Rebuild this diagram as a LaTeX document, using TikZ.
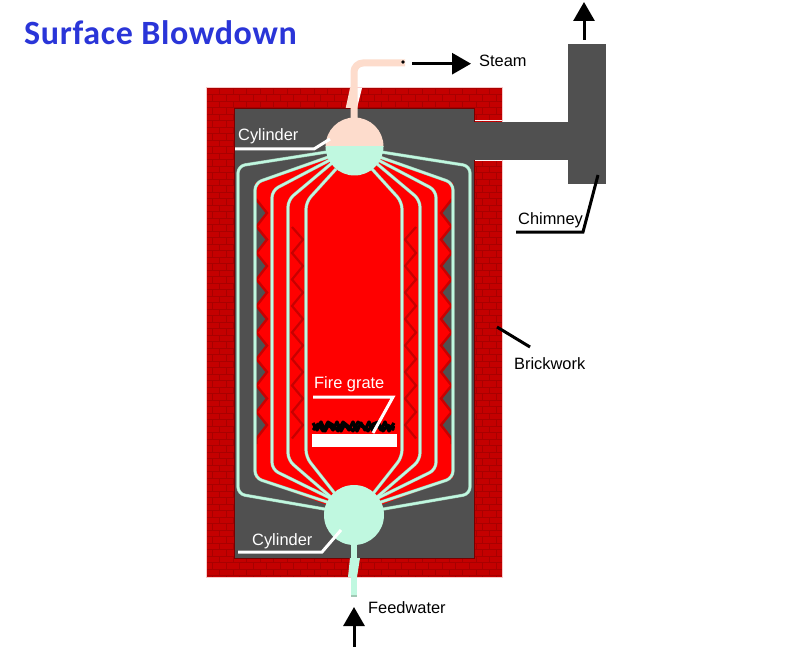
\documentclass[tikz,border=0pt]{standalone}
\usepackage{fontspec}
\setmainfont{Liberation Sans}
\newfontfamily\titlefont[LetterSpace=2]{Carlito}
\usetikzlibrary{arrows.meta}
\definecolor{brickc}{HTML}{C40000}
\definecolor{mortar}{HTML}{A80000}
\definecolor{edgepink}{HTML}{F8C8C8}
\definecolor{wallgray}{HTML}{505050}
\definecolor{fire}{HTML}{FF0000}
\definecolor{zigred}{HTML}{C80000}
\definecolor{water}{HTML}{C0F8E0}
\definecolor{waterline}{HTML}{A0C8B4}
\definecolor{steamc}{HTML}{FDDCCC}
\definecolor{titleblue}{HTML}{2A35D8}
\tikzset{
  x=1pt,y=-1pt,
  label/.style={font=\fontsize{16.4}{18}\selectfont,anchor=base west,inner sep=0pt},
  whitelabel/.style={label,text=white},
  leaderw/.style={draw=white,line width=3pt,line join=miter},
  leaderb/.style={draw=black,line width=3pt,line join=miter},
  flow/.style={draw=black,line width=3pt,-{Triangle[length=19pt,width=21pt]}},
  tubeo/.style={draw=waterline,line width=3.2pt,rounded corners=7pt},
  tubei/.style={draw=water,line width=2.2pt,rounded corners=7pt},
}
\newcommand{\tubes}[1]{%
  \draw[#1] (330,151.5)--(238,166)--(238,494)--(330,510);
  \draw[#1] (330,156.5)--(255,183)--(255,478)--(330,503);
  \draw[#1] (330,160)--(272,190.5)--(272,469.5)--(332,499);
  \draw[#1] (332,163)--(288,200)--(288,460)--(332,498);
  \draw[#1] (336,169)--(306,202)--(306,457)--(336,495);
}
\newcommand{\zigs}{%
  \foreach \n in {0,...,8}{
    \pgfmathsetmacro{\ya}{200+26.5*\n}
    \pgfmathsetmacro{\yb}{213+26.5*\n}
    \pgfmathsetmacro{\yc}{226.5+26.5*\n}
    \fill[wallgray] (256,\ya)--(266,\yb)--(256,\yc)--cycle;
  }
  \draw[zigred,line width=2.4pt] (256,199)
    \foreach \n in {0,...,8}{ -- (267,{213+26.5*\n}) -- (256.5,{226.5+26.5*\n}) } -- (256.5,444);
  \draw[zigred,line width=2.2pt] (292,227)
    \foreach \n in {1,...,8}{ -- (303,{213+26.5*\n}) -- (292,{226.5+26.5*\n}) };
}
\begin{document}
\begin{tikzpicture}
\useasboundingbox (0,0) rectangle (797,647);
\fill[white] (0,0) rectangle (797,647);
% brick wall
\begin{scope}
  \clip (206,88) rectangle (502,577);
  \fill[brickc] (206,88) rectangle (502,577);
  \foreach \r in {0,...,75}{
    \pgfmathsetmacro{\yy}{88+6.5*\r}
    \pgfmathsetmacro{\yz}{\yy+6.5}
    \pgfmathsetmacro{\off}{mod(\r,2)*6.75}
    \draw[mortar,line width=0.9pt] (206,\yy) -- (502,\yy);
    \foreach \c in {0,...,22}{
      \draw[mortar,line width=0.6pt] ({206+\off+13.5*\c},\yy) -- ({206+\off+13.5*\c},\yz);
    }
  }
\end{scope}
\draw[edgepink,line width=1pt] (206,88) rectangle (502,577);
% chimney
\draw[white!85!pink,line width=1pt] (474,121)--(502,121) (474,161)--(502,161);
\fill[wallgray] (234,108) rectangle (474,558);
\draw[mortar!70!black,line width=.6pt] (234,108) rectangle (474,558);
\fill[wallgray] (473,122) rectangle (568,160);
\fill[wallgray] (568,44) rectangle (606,184);
% fire
\fill[fire] (354,146)--(255,183)--(255,478)--(354,515)--(453,478)--(453,183)--cycle;
\zigs
\begin{scope}[xshift=708pt,xscale=-1]
  \zigs
\end{scope}
% tubes
\tubes{tubeo}
\tubes{tubei}
\begin{scope}[xshift=708pt,xscale=-1]
  \tubes{tubeo}
  \tubes{tubei}
\end{scope}
% steam pipe
\fill[steamc] (345.7,108)--(350,88)--(351,88)--(351,108)--cycle;
\fill[white] (357,88)--(362,88)--(357,108)--cycle;
\draw[steamc,line width=7pt,rounded corners=9pt] (354,122)--(354,63)--(405,63);
\fill[black] (403,62) circle (1.8pt);
% feed pipe
\fill[water] (348,577)--(350,558)--(360,558)--(357,577)--cycle;
\draw[water,line width=6pt] (354,540)--(354,596);
\fill[waterline] (351,595) rectangle (357,597);
% cylinders
\begin{scope}
  \clip (325,117) rectangle (384,147);
  \fill[steamc] (354.5,146.5) circle (29pt);
\end{scope}
\begin{scope}
  \clip (325,147) rectangle (384,177);
  \fill[water] (354.5,146.5) circle (29pt);
\end{scope}
\fill[water] (354,515) circle (30pt);
% fire grate
\draw[black,line width=3.2pt,line join=round] (313,423)--(317,430)--(321,422)--(325,431)--(329,424)--(333,430)--(337,422)--(341,431)--(345,424)--(349,430)--(353,422)--(357,431)--(361,423)--(365,430)--(369,422)--(373,431)--(377,424)--(381,430)--(385,422)--(389,431)--(394,423);
\draw[black,line width=3pt,line join=round] (313,430)--(318,424)--(323,431)--(328,422)--(333,425)--(338,431)--(343,422)--(348,426)--(353,431)--(358,422)--(363,426)--(368,431)--(373,424)--(378,422)--(383,431)--(388,425)--(394,430);
\draw[black,line width=2.4pt,dash pattern=on 6pt off 2pt] (313,427)--(395,427);
\fill[white] (312,434) rectangle (397,446.5);
% leaders
\draw[leaderw] (235,149)--(314,149)--(330,139);
\draw[leaderw] (238,552)--(322,552)--(341,530);
\draw[leaderw] (313,397)--(393,397)--(373,433);
\draw[leaderb] (516,232)--(583,232)--(598,175);
\draw[leaderb] (497,327)--(530,347);
% flow arrows
\coordinate (steamA) at (412,63.7);
\coordinate (steamB) at (471,63.7);
\coordinate (chimA) at (584,40);
\coordinate (chimB) at (584,2);
\coordinate (feedA) at (354,647);
\coordinate (feedB) at (354,607);
\draw[flow] (steamA)--(steamB);
\draw[flow] (chimA)--(chimB);
\draw[flow] (feedA)--(feedB);
% labels
\node[anchor=base west,inner sep=0pt,text=titleblue,font=\titlefont\bfseries\fontsize{34}{38}\selectfont] (title) at (24,45) {Surface Blowdown};
\node[label] (steam) at (479,67) {Steam};
\node[label] (chimney) at (518,224) {Chimney};
\node[label] (brick) at (514,369) {Brickwork};
\node[label] (feed) at (368,613) {Feedwater};
\node[whitelabel] (cyla) at (238,141) {Cylinder};
\node[whitelabel] (cylb) at (252,545) {Cylinder};
\node[whitelabel] (grate) at (314,388) {Fire grate};
\end{tikzpicture}
\end{document}
